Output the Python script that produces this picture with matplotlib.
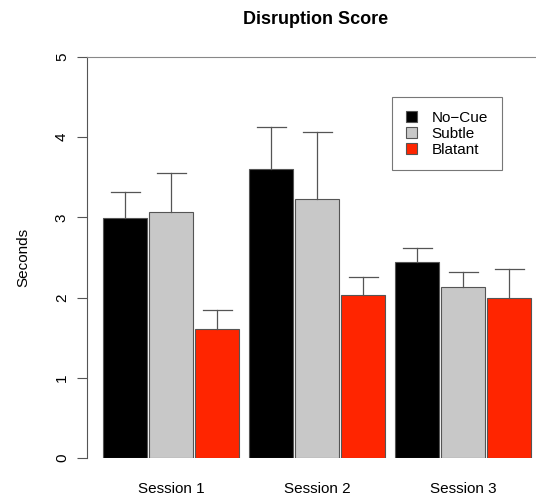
import numpy as np
import matplotlib

matplotlib.use("Agg")
import matplotlib.pyplot as plt  # noqa: E402

plt.rcParams["font.family"] = ["Liberation Sans", "DejaVu Sans"]

sessions = ["Session 1", "Session 2", "Session 3"]
conditions = ["No\u2212Cue", "Subtle", "Blatant"]
means = {
    "No\u2212Cue": [2.99, 3.60, 2.44],
    "Subtle": [3.07, 3.23, 2.13],
    "Blatant": [1.61, 2.03, 1.99],
}
upper = {
    "No\u2212Cue": [3.32, 4.13, 2.62],
    "Subtle": [3.55, 4.07, 2.32],
    "Blatant": [1.85, 2.26, 2.36],
}
colors = ["#000000", "#c8c8c8", "#ff2500"]
edge = "#555555"

fig = plt.figure(figsize=(5.36, 4.97), dpi=100)
ax = fig.add_axes([87 / 536, 39 / 497, 448 / 536, 401 / 497])

group_step = 146 / 46
bar_w = 44 / 46
cap = 14.5 / 46

for i, cond in enumerate(conditions):
    xs = np.arange(len(sessions)) * group_step + i
    ax.bar(xs, means[cond], width=bar_w, color=colors[i], edgecolor=edge,
           linewidth=0.8, label=cond, zorder=2)
    for x, m, u in zip(xs, means[cond], upper[cond]):
        ax.plot([x, x], [m, u], color=edge, lw=0.9, zorder=3)
        ax.plot([x - cap, x + cap], [u, u], color=edge, lw=0.9, zorder=3)

ax.set_xlim(-38 / 46, 410 / 46)
ax.set_ylim(0, 5)
ax.set_xticks(np.arange(len(sessions)) * group_step + 1)
ax.set_xticklabels(sessions, fontsize=11)
ax.tick_params(axis="x", length=0, pad=17)
ax.set_yticks(range(6))
ax.set_yticklabels([str(v) for v in range(6)], fontsize=11, rotation=90, va="center")
ax.tick_params(axis="y", length=7, color=edge, pad=6)

for s in ["right", "bottom"]:
    ax.spines[s].set_visible(False)
ax.spines["left"].set_color(edge)
ax.spines["top"].set_color("#888888")
ax.spines["left"].set_bounds(0, 5)

ax.set_ylabel("Seconds", fontsize=11, labelpad=18)
ax.set_title("Disruption Score", fontsize=13, fontweight="bold", pad=24, x=0.51)

leg = ax.legend(loc="upper left", bbox_to_anchor=(0.681, 0.9), borderaxespad=0,
                fontsize=11, frameon=True, fancybox=False, edgecolor=edge,
                handlelength=0.7, handleheight=0.7, handletextpad=1.0,
                borderpad=0.9, labelspacing=0.12)
leg.get_frame().set_linewidth(0.8)

fig.savefig("out.png", dpi=100)
